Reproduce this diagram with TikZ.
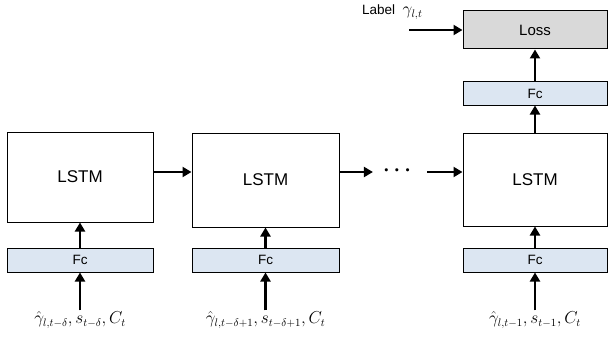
\documentclass[tikz,border=0pt]{standalone}
\usepackage{amsmath}
\usepackage{fontspec}
\setmainfont{Liberation Sans}
\usetikzlibrary{arrows.meta}
\definecolor{fcblue}{HTML}{DCE6F2}
\definecolor{lossgray}{HTML}{D9D9D9}
\tikzset{
  box/.style={draw=black, line width=1pt, inner sep=0pt},
  lstmbox/.style={box, fill=white, font=\fontsize{17}{20}\selectfont},
  fcbox/.style={box, fill=fcblue, font=\fontsize{13.5}{16}\selectfont},
  lossbox/.style={box, fill=lossgray, font=\fontsize{15}{18}\selectfont},
  arr/.style={line width=2.3pt, -{Triangle[length=9pt,width=10pt]}},
  inlabel/.style={font=\fontsize{16}{18}\selectfont, inner sep=1pt},
}
\begin{document}
\begin{tikzpicture}[x=1pt,y=-1pt]
\useasboundingbox (0,0) rectangle (608,337);
% LSTM boxes
\node[lstmbox, minimum width=146pt, minimum height=90pt] (l1) at (80,177) {LSTM};
\node[lstmbox, minimum width=147pt, minimum height=94pt] (l2) at (265.5,180) {LSTM};
\node[lstmbox, minimum width=144pt, minimum height=93pt] (l3) at (535,179.5) {LSTM};
\coordinate (row) at (0,172);
% Fc boxes bottom
\node[fcbox, minimum width=146pt, minimum height=24pt] (f1) at (80,260) {Fc};
\node[fcbox, minimum width=147pt, minimum height=24pt] (f2) at (265.5,260) {Fc};
\node[fcbox, minimum width=144pt, minimum height=24pt] (f3) at (535,260) {Fc};
% top Fc and loss
\node[fcbox, minimum width=144pt, minimum height=23pt] (ft) at (535,93.5) {Fc};
\node[lossbox, minimum width=144pt, minimum height=38pt] (loss) at (535,30) {Loss};
% dots
\node[font=\fontsize{22}{24}\selectfont, inner sep=0pt] (dots) at (399,171) {$\boldsymbol{\cdots}$};
% inputs
\node[inlabel] (i1) at (80,320) {$\hat{\gamma}_{l,t-\delta}, s_{t-\delta}, C_t$};
\node[inlabel] (i2) at (265.5,320) {$\hat{\gamma}_{l,t-\delta+1}, s_{t-\delta+1}, C_t$};
\node[inlabel] (i3) at (535,320) {$\hat{\gamma}_{l,t-1}, s_{t-1}, C_t$};
% label
\node[font=\fontsize{13.5}{16}\selectfont, anchor=west, inner sep=0pt] (lab) at (362,12) {Label\ \ \fontsize{16}{18}\selectfont$\gamma_{l,t}$};
\coordinate (labarr) at (409,30);
% arrows
\draw[arr] (i1.north) -- (f1.south);
\draw[arr] (i2.north) -- (f2.south);
\draw[arr] (i3.north) -- (f3.south);
\draw[arr] (f1.north) -- (l1.south);
\draw[arr] (f2.north) -- (l2.south);
\draw[arr] (f3.north) -- (l3.south);
\draw[arr] (l1.east |- row) -- (l2.west |- row);
\draw[arr] (l2.east |- row) -- ([xshift=-10pt]dots.west |- row);
\draw[arr] ([xshift=12pt]dots.east |- row) -- (l3.west |- row);
\draw[arr] (l3.north) -- (ft.south);
\draw[arr] (ft.north) -- (loss.south);
\draw[arr] (labarr) -- (loss.west);
\end{tikzpicture}
\end{document}
